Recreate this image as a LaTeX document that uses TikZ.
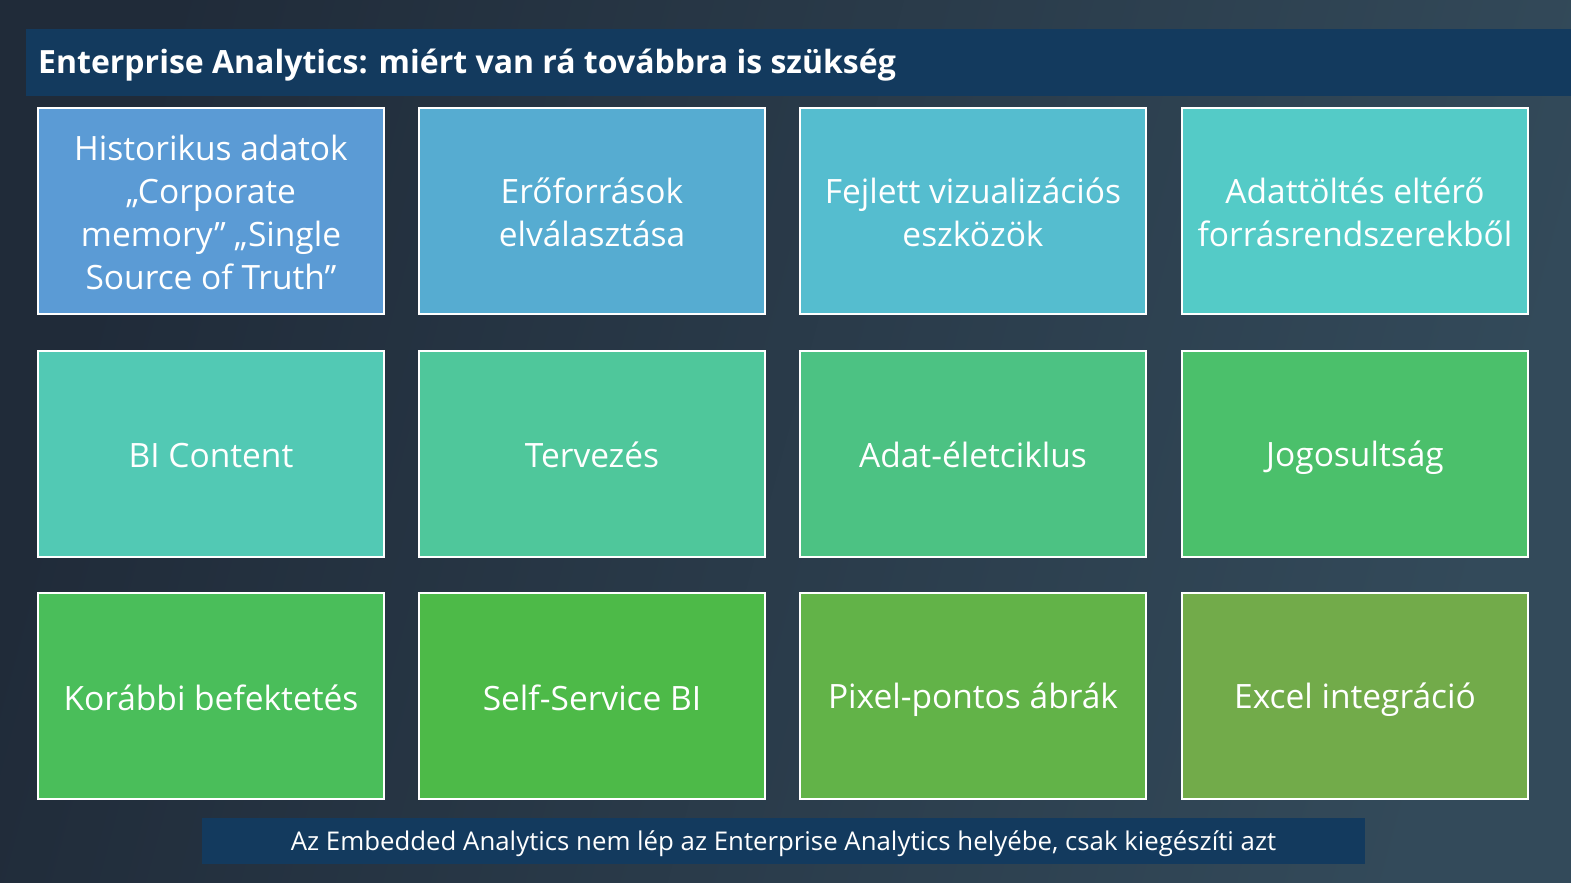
\documentclass[tikz,border=0pt]{standalone}
\usepackage{fontspec}
\setmainfont{Open Sans}
\definecolor{bgL}{HTML}{202B39}
\definecolor{bgR}{HTML}{334A5A}
\definecolor{barblue}{HTML}{133A5E}
\definecolor{cA}{HTML}{5B9BD5}
\definecolor{cB}{HTML}{56ACD1}
\definecolor{cC}{HTML}{55BDCF}
\definecolor{cD}{HTML}{54CBC7}
\definecolor{cE}{HTML}{52C9B4}
\definecolor{cF}{HTML}{4FC79B}
\definecolor{cG}{HTML}{4CC283}
\definecolor{cH}{HTML}{4BC06B}
\definecolor{cI}{HTML}{4ABE5A}
\definecolor{cJ}{HTML}{4DBA48}
\definecolor{cK}{HTML}{62B348}
\definecolor{cL}{HTML}{72AB4A}
\newcommand{\ls}{\rule[-6pt]{0pt}{40pt}}
\tikzset{
  tile/.style={draw=white, line width=2pt, minimum width=346pt, minimum height=206pt,
    inner sep=0pt, text=white, align=center,
    font=\fontsize{33.5}{43}\selectfont},
}
\begin{document}
\begin{tikzpicture}[x=1pt,y=-1pt]
\useasboundingbox (0,0) rectangle (1571,883);
\shade[left color=bgL, right color=bgR, shading angle=75] (0,0) rectangle (1571,883);
\fill[barblue] (26,29) rectangle (1571,96);
\node[anchor=west, text=white, font=\fontsize{32}{36}\selectfont\bfseries, inner sep=0pt] (title) at (38,65) {Enterprise Analytics: miért van rá továbbra is szükség};
% row 1
\node[tile, fill=cA] (t11) at (211,211) {\ls Historikus adatok\\\ls „Corporate\\\ls memory” „Single\\\ls Source of Truth”};
\node[tile, fill=cB] (t12) at (592,211) {\ls Erőforrások\\\ls elválasztása};
\node[tile, fill=cC] (t13) at (973,211) {\ls Fejlett vizualizációs\\\ls eszközök};
\node[tile, fill=cD] (t14) at (1355,211) {\ls Adattöltés eltérő\\\ls forrásrendszerekből};
% row 2
\node[tile, fill=cE] (t21) at (211,453.5) {\ls BI Content};
\node[tile, fill=cF] (t22) at (592,453.5) {\ls Tervezés};
\node[tile, fill=cG] (t23) at (973,453.5) {\ls Adat-életciklus};
\node[tile, fill=cH] (t24) at (1355,453.5) {\ls Jogosultság};
% row 3
\node[tile, fill=cI] (t31) at (211,696) {\ls Korábbi befektetés};
\node[tile, fill=cJ] (t32) at (592,696) {\ls Self-Service BI};
\node[tile, fill=cK] (t33) at (973,696) {\ls Pixel-pontos ábrák};
\node[tile, fill=cL] (t34) at (1355,696) {\ls Excel integráció};
% bottom bar
\fill[barblue] (202,818) rectangle (1365,864);
\node[text=white, font=\fontsize{25.8}{28}\selectfont, inner sep=0pt, text height=18pt, text depth=6pt] (foot) at (783.5,844) {Az Embedded Analytics nem lép az Enterprise Analytics helyébe, csak kiegészíti azt};
\end{tikzpicture}
\end{document}
